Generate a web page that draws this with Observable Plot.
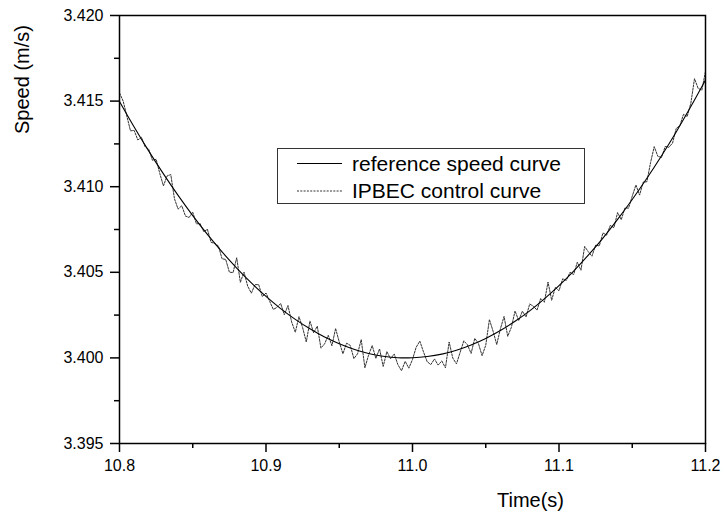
<!DOCTYPE html>
<html>
<head>
<meta charset="utf-8">
<script src="https://cdn.jsdelivr.net/npm/d3@7"></script>
<script src="https://cdn.jsdelivr.net/npm/@observablehq/plot@0.6"></script>
<style>
  html, body { margin: 0; padding: 0; background: white; }
  #chart { width: 725px; height: 519px; }
</style>
</head>
<body>
<div id="chart"></div>
<script>
// Reference speed curve (Time s, Speed m/s)
const refTime = [10.80,10.81,10.82,10.83,10.84,10.85,10.86,10.87,10.88,10.89,10.90,10.91,10.92,10.93,10.94,10.95,10.96,10.97,10.98,10.99,11.00,11.01,11.02,11.03,11.04,11.05,11.06,11.07,11.08,11.09,11.10,11.11,11.12,11.13,11.14,11.15,11.16,11.17,11.18,11.19,11.20];
const refSpeed = [3.41498,3.41349,3.41208,3.41075,3.40949,3.40831,3.40721,3.40619,3.40525,3.40438,3.40359,3.40288,3.40225,3.40170,3.40122,3.40083,3.40051,3.40026,3.40010,3.40001,3.40001,3.40008,3.40022,3.40045,3.40076,3.40114,3.40160,3.40214,3.40275,3.40345,3.40422,3.40507,3.40600,3.40700,3.40809,3.40925,3.41049,3.41181,3.41320,3.41468,3.41623];

// IPBEC control curve, sampled every 0.0025 s from 10.8 s
const ipbecStart = 10.8;
const ipbecStep = 0.0025;
const ipbecSpeed = [
3.41548,3.41500,3.41413,3.41326,3.41329,3.41273,3.41288,3.41233,3.41218,3.41154,
3.41160,3.41077,3.41005,3.41063,3.41071,3.40930,3.40869,3.40889,3.40829,3.40820,
3.40851,3.40783,3.40785,3.40738,3.40751,3.40675,3.40669,3.40654,3.40579,3.40575,
3.40501,3.40498,3.40585,3.40442,3.40501,3.40419,3.40378,3.40428,3.40428,3.40358,
3.40379,3.40331,3.40283,3.40295,3.40318,3.40252,3.40306,3.40210,3.40150,3.40241,
3.40177,3.40093,3.40215,3.40147,3.40185,3.40058,3.40082,3.40132,3.40071,3.40172,
3.40093,3.40024,3.40086,3.40073,3.39996,3.40024,3.40107,3.39942,3.40016,3.40072,
3.39997,3.40053,3.39950,3.40037,3.39995,3.40023,3.39961,3.39925,3.39980,3.39940,
3.39991,3.40062,3.40098,3.40035,3.39978,3.39961,3.39994,3.39958,3.39982,3.39942,
3.40093,3.39999,3.39965,3.40032,3.40099,3.40077,3.40026,3.40114,3.40084,3.40013,
3.40074,3.40224,3.40156,3.40078,3.40170,3.40242,3.40126,3.40179,3.40274,3.40218,
3.40273,3.40239,3.40315,3.40302,3.40279,3.40347,3.40325,3.40443,3.40337,3.40412,
3.40392,3.40462,3.40453,3.40500,3.40487,3.40559,3.40512,3.40651,3.40620,3.40594,
3.40659,3.40654,3.40730,3.40717,3.40774,3.40761,3.40849,3.40807,3.40876,3.40875,
3.40945,3.41010,3.40951,3.41027,3.41029,3.41141,3.41234,3.41177,3.41171,3.41235,
3.41230,3.41255,3.41340,3.41357,3.41423,3.41410,3.41488,3.41631,3.41574,3.41564,
3.41673
];

// Axis ticks
const xMajorTicks = [10.8, 10.9, 11.0, 11.1, 11.2];
const xMinorTicks = [10.85, 10.95, 11.05, 11.15];
const yMajorTicks = [3.395, 3.400, 3.405, 3.410, 3.415, 3.420];
const yMinorTicks = [3.3975, 3.4025, 3.4075, 3.4125, 3.4175];

const seriesNames = ["reference speed curve", "IPBEC control curve"];

const refData = refTime.map((t, i) => ({t, v: refSpeed[i]}));
const ipbecData = ipbecSpeed.map((v, i) => ({t: ipbecStart + i * ipbecStep, v}));

const font = "'Liberation Sans', Arial, Helvetica, sans-serif";

const svg = Plot.plot({
  width: 725,
  height: 519,
  marginLeft: 119,
  marginRight: 20,
  marginTop: 15,
  marginBottom: 76,
  x: {domain: [10.8, 11.2]},
  y: {domain: [3.395, 3.420]},
  style: {fontFamily: font, fontSize: "16px", color: "black", background: "white", overflow: "visible"},
  marks: [
    Plot.line(ipbecData, {x: "t", y: "v", stroke: "#333", strokeWidth: 1, strokeDasharray: "2,1.3"}),
    Plot.line(refData, {x: "t", y: "v", stroke: "black", strokeWidth: 1.1, curve: "catmull-rom"}),
    Plot.frame({stroke: "black", strokeWidth: 1.5}),
    Plot.axisY(yMajorTicks, {tickSize: 9, tickPadding: 7, tickFormat: d3.format(".3f"), label: null, strokeWidth: 1.5, fontSize: 16}),
    Plot.axisY(yMinorTicks, {tickSize: 5, text: null, label: null, strokeWidth: 1.5}),
    Plot.axisX(xMajorTicks, {tickSize: 9, tickPadding: 7, tickFormat: d3.format(".1f"), label: null, strokeWidth: 1.5, fontSize: 16}),
    Plot.axisX(xMinorTicks, {tickSize: 5, text: null, label: null, strokeWidth: 1.5}),
    Plot.text(["Speed (m/s)"], {text: d => d, frameAnchor: "top-left", dx: -97, dy: 64, rotate: -90, textAnchor: "middle", lineAnchor: "middle", fontSize: 20, fill: "black"}),
    Plot.text(["Time(s)"], {text: d => d, frameAnchor: "bottom", dx: 118, dy: 57, textAnchor: "middle", lineAnchor: "middle", fontSize: 20, fill: "black"})
  ]
});

// Legend inside the plot area
const g = d3.select(svg).append("g")
  .attr("font-family", font).attr("font-size", 21).attr("text-anchor", "start");
g.append("rect").attr("x", 277.5).attr("y", 148.5).attr("width", 307).attr("height", 55)
  .attr("fill", "white").attr("stroke", "#333").attr("stroke-width", 1);
const rows = [
  {y: 163.5, dash: null, color: "black", w: 1.1},
  {y: 191, dash: "2,1.3", color: "#333", w: 1}
];
rows.forEach((r, i) => {
  g.append("line").attr("x1", 297).attr("x2", 342).attr("y1", r.y).attr("y2", r.y)
    .attr("stroke", r.color).attr("stroke-width", r.w).attr("stroke-dasharray", r.dash);
  g.append("text").attr("x", 352).attr("y", r.y).attr("dy", "0.35em")
    .attr("text-anchor", "start").attr("fill", "black").text(seriesNames[i]);
});

document.getElementById("chart").appendChild(svg);
</script>
</body>
</html>
